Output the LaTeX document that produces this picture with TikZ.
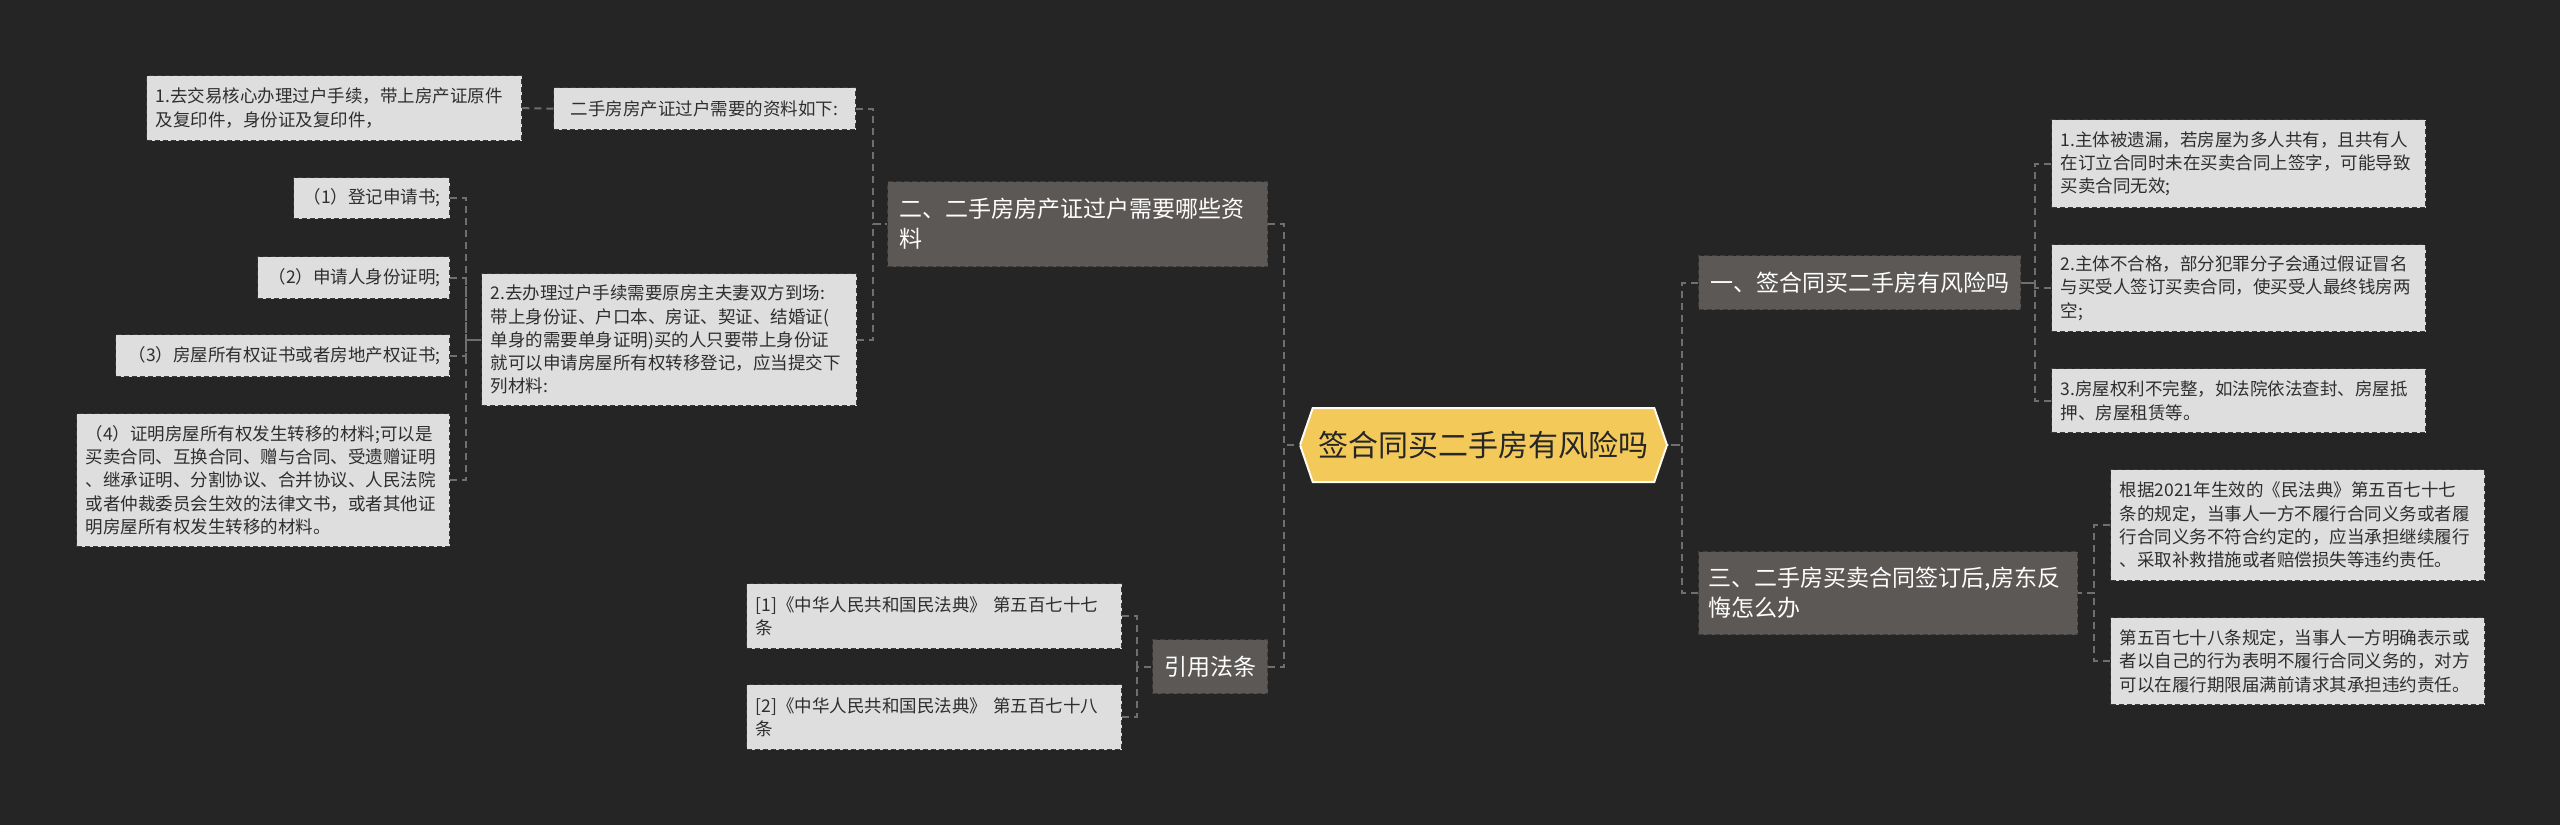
\documentclass[tikz,border=0pt]{standalone}
\usepackage{fontspec}
\newfontfamily\cjk{Noto Sans CJK SC}
\usetikzlibrary{shapes.symbols}
\definecolor{bgc}{HTML}{252525}
\definecolor{brfill}{HTML}{5B5856}
\definecolor{brline}{HTML}{3E3C3B}
\definecolor{lffill}{HTML}{DEDEDE}
\definecolor{lfline}{HTML}{3A3A3A}
\definecolor{lftext}{HTML}{2E2E2E}
\definecolor{connc}{HTML}{6F6F6F}
\definecolor{rootfill}{HTML}{F3C95A}
\tikzset{
  leaf/.style={anchor=north west, fill=lffill, draw=lfline, line width=1.3pt,
    dash pattern=on 5pt off 3pt, text=lftext, inner xsep=9pt, inner ysep=0pt,
    font=\cjk\fontsize{17.5pt}{23.3pt}\selectfont, align=left},
  branch/.style={anchor=north west, fill=brfill, draw=brline, line width=1.3pt,
    dash pattern=on 5pt off 3pt, text=white, inner xsep=11pt, inner ysep=0pt,
    font=\cjk\fontsize{23pt}{30pt}\selectfont, align=left},
  conn/.style={draw=connc, line width=2pt, dash pattern=on 7pt off 5pt},
}
\begin{document}
\begin{tikzpicture}[x=1pt,y=-1pt]
\useasboundingbox (0,0) rectangle (2560,825);
\fill[bgc] (0,0) rectangle (2560,825);

% root
\node[signal, signal to=west and east, signal pointer angle=142,
  fill=rootfill, draw=white!92!rootfill, line width=2pt, text=black!85,
  minimum width=367pt, minimum height=74pt, inner sep=0pt,
  font=\cjk\fontsize{30pt}{36pt}\selectfont] (root) at (1483.5,445) {签合同买二手房有风险吗};

% right side branches
\node[branch, minimum width=322pt, minimum height=54pt, align=center] (b1) at (1698,255) {一、签合同买二手房有风险吗};
\node[branch, minimum width=379pt, minimum height=83pt, text width=359pt, inner xsep=10pt] (b3) at (1698,551) {三、二手房买卖合同签订后,房东反\\悔怎么办};

% children of b1
\node[leaf, minimum width=374pt, minimum height=88pt, text width=356pt] (c1) at (2051,119) {1.主体被遗漏，若房屋为多人共有，且共有人\\在订立合同时未在买卖合同上签字，可能导致\\买卖合同无效;};
\node[leaf, minimum width=374pt, minimum height=87pt, text width=356pt] (c2) at (2051,244) {2.主体不合格，部分犯罪分子会通过假证冒名\\与买受人签订买卖合同，使买受人最终钱房两\\空;};
\node[leaf, minimum width=374pt, minimum height=64pt, text width=356pt] (c3) at (2051,368) {3.房屋权利不完整，如法院依法查封、房屋抵\\押、房屋租赁等。};

% children of b3
\node[leaf, minimum width=374pt, minimum height=111pt, text width=356pt] (d1) at (2110,469) {根据2021年生效的《民法典》第五百七十七\\条的规定，当事人一方不履行合同义务或者履\\行合同义务不符合约定的，应当承担继续履行\\、采取补救措施或者赔偿损失等违约责任。};
\node[leaf, minimum width=374pt, minimum height=87pt, text width=356pt] (d2) at (2110,617) {第五百七十八条规定，当事人一方明确表示或\\者以自己的行为表明不履行合同义务的，对方\\可以在履行期限届满前请求其承担违约责任。};

% left side branches
\node[branch, minimum width=380pt, minimum height=85pt, text width=356pt, inner xsep=12pt] (b2) at (887,181) {二、二手房房产证过户需要哪些资\\料};
\node[branch, minimum width=115pt, minimum height=54pt, align=center] (b4) at (1152,639) {引用法条};

% children of b2
\node[leaf, minimum width=302pt, minimum height=42pt, align=center] (e1) at (553,87) {二手房房产证过户需要的资料如下:};
\node[leaf, minimum width=375pt, minimum height=65pt, text width=357pt] (e11) at (146,75) {1.去交易核心办理过户手续，带上房产证原件\\及复印件，身份证及复印件，};
\node[leaf, minimum width=375pt, minimum height=132pt, text width=357pt] (e2) at (481,273) {2.去办理过户手续需要原房主夫妻双方到场:\\带上身份证、户口本、房证、契证、结婚证(\\单身的需要单身证明)买的人只要带上身份证\\就可以申请房屋所有权转移登记，应当提交下\\列材料:};

% children of e2
\node[leaf, minimum width=156pt, minimum height=41pt, text width=138pt, align=right] (f1) at (293,177) {（1）登记申请书;};
\node[leaf, minimum width=192pt, minimum height=42pt, text width=174pt, align=right] (f2) at (257,256) {（2）申请人身份证明;};
\node[leaf, minimum width=334pt, minimum height=42pt, text width=316pt, align=right] (f3) at (115,334) {（3）房屋所有权证书或者房地产权证书;};
\node[leaf, minimum width=373pt, minimum height=133pt, text width=355pt] (f4) at (76,413) {（4）证明房屋所有权发生转移的材料;可以是\\买卖合同、互换合同、赠与合同、受遗赠证明\\、继承证明、分割协议、合并协议、人民法院\\或者仲裁委员会生效的法律文书，或者其他证\\明房屋所有权发生转移的材料。};

% children of b4
\node[leaf, minimum width=375pt, minimum height=65pt, text width=357pt] (g1) at (746,583) {[1]《中华人民共和国民法典》 第五百七十七\\条};
\node[leaf, minimum width=375pt, minimum height=65pt, text width=357pt] (g2) at (746,684) {[2]《中华人民共和国民法典》 第五百七十八\\条};

% connectors
\draw[conn] (b1.west) -- ++(-16,0) |- (root.east);
\draw[conn] (b3.west) -- ++(-16,0) |- (root.east);
\draw[conn] (b2.east) -- ++(16,0) |- (root.west);
\draw[conn] (b4.east) -- ++(16,0) |- (root.west);

\draw[conn] (c1.west) -- ++(-16,0) |- (b1.east);
\draw[conn] (c2.west) -- ++(-16,0) |- (b1.east);
\draw[conn] (c3.west) -- ++(-16,0) |- (b1.east);

\draw[conn] (d1.west) -- ++(-16,0) |- (b3.east);
\draw[conn] (d2.west) -- ++(-16,0) |- (b3.east);

\draw[conn] (e1.east) -- ++(17,0) |- (b2.west);
\draw[conn] (e2.east) -- ++(16,0) |- (b2.west);
\draw[conn] (e11.east) -- (e1.west);

\draw[conn] (f1.east) -- ++(16,0) |- (e2.west);
\draw[conn] (f2.east) -- ++(16,0) |- (e2.west);
\draw[conn] (f3.east) -- ++(16,0) |- (e2.west);
\draw[conn] (f4.east) -- ++(16,0) |- (e2.west);

\draw[conn] (g1.east) -- ++(15,0) |- (b4.west);
\draw[conn] (g2.east) -- ++(15,0) |- (b4.west);
\end{tikzpicture}
\end{document}
